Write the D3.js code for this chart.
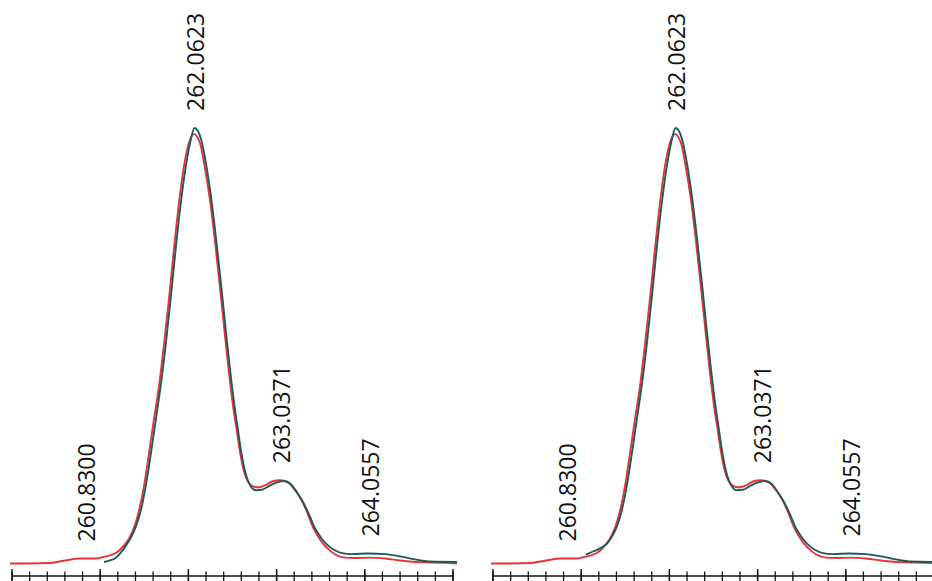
<!DOCTYPE html>
<html><head><meta charset="utf-8">
<script src="https://cdn.jsdelivr.net/npm/d3@7"></script>
<style>html,body{margin:0;padding:0;background:#fff;overflow:hidden}</style>
</head><body><svg id="c" width="932" height="581"></svg>
<script>
// m/z axis (both panels)
const mzDomain = [260, 265];
const majorTicks = [260, 261, 262, 263, 264, 265];
const minorStep = 0.2;

// red trace (m/z, relative intensity) - same in both panels
const redMz = [259.977,260.204,260.431,260.601,260.771,260.941,261.032,261.111,261.202,261.270,
  261.327,261.383,261.440,261.497,261.553,261.610,261.667,261.723,261.780,261.837,
  261.893,261.950,262.007,262.063,262.132,262.188,262.245,262.302,262.358,262.415,
  262.460,262.506,262.551,262.585,262.619,262.653,262.698,262.755,262.800,262.868,
  262.948,263.039,263.129,263.209,263.265,263.345,263.413,263.469,263.526,263.605,
  263.685,263.776,263.889,264.059,264.229,264.399,264.569,264.739,264.909,265.045];
const redInt = [0.46,0.46,0.57,1.15,1.6,1.6,1.95,2.3,3.2,4.6,
  6.2,8.6,12.5,18.2,25.6,33.5,41,50.5,61.0,72.5,
  82.9,91.3,96.7,98.6,96.5,90.8,83.5,74,63.5,52.5,
  44,36.5,30.5,26,22.4,20.1,18.6,17.95,17.9,18.3,
  19.2,19.5,19.0,17.2,15.6,12.2,8.7,6.7,5.0,3.4,
  2.3,1.8,1.7,1.8,1.6,1.15,0.8,0.7,0.6,0.46];

// teal trace, left panel
const tealMzL = [261.043,261.111,261.179,261.236,261.293,261.349,261.406,
  261.463,261.519,261.576,261.633,261.689,261.746,261.803,261.859,261.916,261.973,262.024,262.069,
  262.143,262.200,262.256,262.313,262.370,262.426,262.472,262.517,262.562,262.596,262.630,262.664,
  262.710,262.766,262.834,262.925,263.005,263.084,263.163,263.231,263.288,263.367,263.435,263.492,
  263.560,263.639,263.730,263.855,264.036,264.229,264.399,264.569,264.739,265.045];
const tealIntL = [0.8,1.15,1.8,3.0,4.6,6.4,9.0,
  12.8,18.5,25.8,33.7,41.5,51.0,61.8,73.0,83.2,91.5,97.0,100,
  97.5,91.8,84.3,74.8,64.3,53.3,44.8,37.3,31.0,26.3,22.6,20.0,
  18.0,17.2,17.3,18.3,19.0,19.3,18.6,16.7,14.9,11.7,8.5,6.7,
  5.0,3.7,2.9,2.6,2.75,2.6,2.1,1.4,0.9,0.8];

// teal trace, right panel (starts higher)
const tealMzR = [261.054,261.134,261.213,261.293,261.349,261.406,
  261.463,261.519,261.576,261.633,261.689,261.746,261.803,261.859,261.916,261.973,262.024,262.069,
  262.143,262.200,262.256,262.313,262.370,262.426,262.472,262.517,262.562,262.596,262.630,262.664,
  262.710,262.766,262.834,262.925,263.005,263.084,263.163,263.231,263.288,263.367,263.435,263.492,
  263.560,263.639,263.730,263.855,264.036,264.229,264.399,264.569,264.739,265.045];
const tealIntR = [2.5,3.2,3.9,5.0,6.6,9.0,
  12.8,18.5,25.8,33.7,41.5,51.0,61.8,73.0,83.2,91.5,97.0,100,
  97.5,91.8,84.3,74.8,64.3,53.3,44.8,37.3,31.0,26.3,22.6,20.0,
  18.0,17.2,17.3,18.3,19.0,19.3,18.6,16.7,14.9,11.7,8.5,6.7,
  5.0,3.7,2.9,2.6,2.75,2.6,2.1,1.4,0.9,0.8];

// peak labels
const labelMz = [260.8300, 262.0623, 263.0371, 264.0557];
const labelText = ["260.8300", "262.0623", "263.0371", "264.0557"];
const labelInt = [1.6, 100, 19.5, 2.75];

const svg = d3.select("#c");
const y = d3.scaleLinear().domain([0, 100]).range([565.5, 128]);
const panels = [
  {range: [12, 453], red: [redMz, redInt], teal: [tealMzL, tealIntL]},
  {range: [493, 934], red: [redMz, redInt], teal: [tealMzR, tealIntR]}
];
const RED = "#e8333c", TEAL = "#1d5a58";

panels.forEach(p => {
  const x = d3.scaleLinear().domain(mzDomain).range(p.range);
  const g = svg.append("g");
  const line = d3.line().x(d => x(d[0])).y(d => y(d[1])).curve(d3.curveMonotoneX);
  const zip = (a, b) => a.map((v, i) => [v, b[i]]);
  // axis
  const axisY = 576;
  g.append("line").attr("x1", x(260)).attr("x2", x(265)).attr("y1", axisY).attr("y2", axisY)
    .attr("stroke", "#111").attr("stroke-width", 1.7);
  const minor = d3.range(260, 265.0001, minorStep);
  g.selectAll(".mn").data(minor).join("line")
    .attr("x1", d => x(d)).attr("x2", d => x(d)).attr("y1", 571.5).attr("y2", 585)
    .attr("stroke", "#111").attr("stroke-width", 1.3);
  g.selectAll(".mj").data(majorTicks).join("line")
    .attr("x1", d => x(d)).attr("x2", d => x(d)).attr("y1", 569).attr("y2", 585)
    .attr("stroke", "#111").attr("stroke-width", 1.4);
  // traces
  g.append("path").attr("d", line(zip(p.red[0], p.red[1]))).attr("fill", "none")
    .attr("stroke", RED).attr("stroke-width", 1.9).attr("stroke-linejoin", "round");
  g.append("path").attr("d", line(zip(p.teal[0], p.teal[1]))).attr("fill", "none")
    .attr("stroke", TEAL).attr("stroke-width", 1.9).attr("stroke-linejoin", "round");
  // labels
  labelMz.forEach((m, i) => {
    g.append("text")
      .attr("transform", `translate(${x(m) + 1.5},${y(labelInt[i]) - 17}) rotate(-90)`)
      .attr("dy", "0.36em")
      .attr("font-family", "'Open Sans', sans-serif")
      .attr("font-size", 23)
      .attr("fill", "#111")
      .text(labelText[i]);
  });
});
</script></body></html>
